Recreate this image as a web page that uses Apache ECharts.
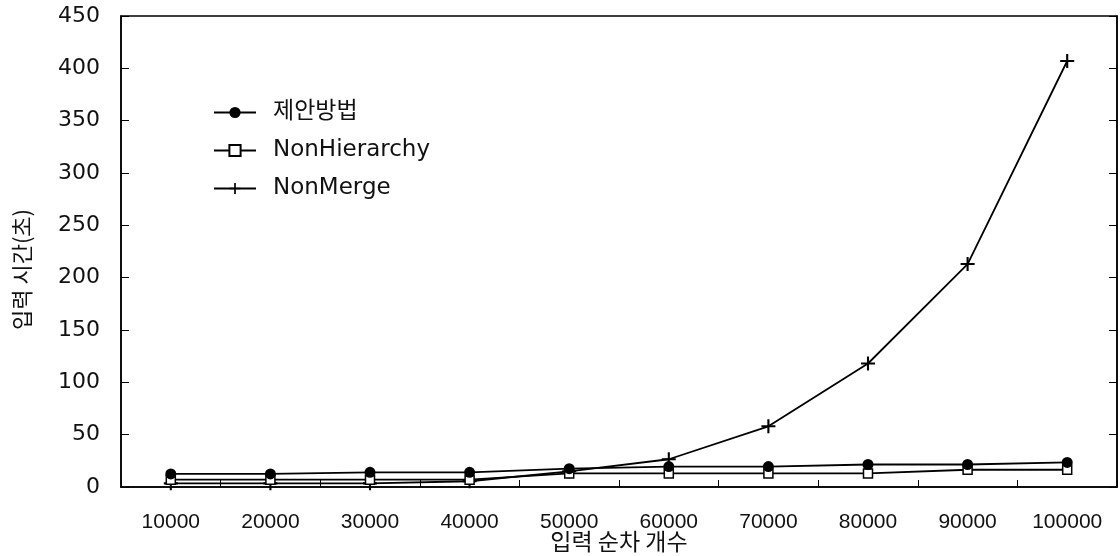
<!DOCTYPE html>
<html>
<head>
<meta charset="utf-8">
<script src="https://cdn.jsdelivr.net/npm/echarts@6/dist/echarts.min.js"></script>
<style>
  html, body { margin: 0; padding: 0; background: #fff; }
  #chart { width: 1120px; height: 556px; }
</style>
</head>
<body>
<div id="chart"></div>
<script>
// Input size (number of sequences) per measurement
const categories = ['10000', '20000', '30000', '40000', '50000', '60000', '70000', '80000', '90000', '100000'];

// Elapsed time in seconds for each method
const proposed = [12.5, 12.5, 14, 14, 17.5, 19.5, 19.5, 21.5, 21.5, 23.5];
const nonHierarchy = [7, 7, 7, 7, 13, 13, 13, 13, 16.5, 16.5];
const nonMerge = [3.5, 3.5, 3.5, 5.5, 15, 26.5, 58, 118, 213, 407];

const seriesNames = ['제안방법', 'NonHierarchy', 'NonMerge'];

// Y axis range
const yMin = 0, yMax = 450, yStep = 50;

// Filled plus-sign marker
const plusPath = 'path://M4.25,0 H5.75 V4.25 H10 V5.75 H5.75 V10 H4.25 V5.75 H0 V4.25 H4.25 Z';

const ink = '#000';
const chart = echarts.init(document.getElementById('chart'), null, { renderer: 'canvas' });

chart.setOption({
  backgroundColor: '#fff',
  animation: false,
  grid: {
    left: 121, right: 3, top: 16, bottom: 69,
    containLabel: false,
    outerBoundsMode: 'none',
    show: true, borderColor: ink, borderWidth: 1.5, backgroundColor: 'transparent'
  },
  legend: {
    orient: 'vertical',
    left: 213, top: 101,
    padding: 0,
    itemWidth: 42, itemHeight: 14, itemGap: 15,
    data: seriesNames,
    textStyle: {
      fontFamily: 'DejaVu Sans, "Noto Sans CJK KR", sans-serif',
      fontSize: 23, color: '#111',
      padding: [0, 0, 0, 12]
    }
  },
  xAxis: {
    type: 'category',
    data: categories,
    boundaryGap: true,
    name: '입력 순차 개수',
    nameLocation: 'middle',
    nameGap: 43,
    nameMoveOverlap: false,
    nameTextStyle: { fontFamily: '"Noto Sans CJK KR", sans-serif', fontSize: 23, color: '#111' },
    axisLine: { show: true, lineStyle: { color: ink, width: 1.5 } },
    axisTick: { show: true, inside: true, length: 7, lineStyle: { color: ink, width: 1 } },
    axisLabel: {
      margin: 25,
      fontFamily: '"Liberation Sans Narrow", "Liberation Sans", sans-serif',
      fontSize: 21, color: '#111'
    },
    splitLine: { show: false }
  },
  yAxis: [
    {
      type: 'value',
      min: yMin, max: yMax, interval: yStep,
      name: '입력 시간(초)',
      nameLocation: 'middle',
      nameGap: 88,
      nameRotate: 90,
      nameMoveOverlap: false,
      nameTextStyle: {
        fontFamily: '"Noto Sans CJK KR", sans-serif', fontSize: 22, color: '#111',
        padding: [0, 36, 0, 0]
      },
      axisLine: { show: true, lineStyle: { color: ink, width: 1.5 } },
      axisTick: { show: true, inside: true, length: 8, lineStyle: { color: ink, width: 1 } },
      axisLabel: {
        margin: 21,
        fontFamily: 'DejaVu Sans, sans-serif',
        fontSize: 22, color: '#111'
      },
      splitLine: { show: false }
    },
    {
      type: 'value',
      position: 'right',
      min: yMin, max: yMax, interval: yStep,
      axisLine: { show: true, lineStyle: { color: ink, width: 1.5 } },
      axisTick: { show: true, inside: true, length: 8, lineStyle: { color: ink, width: 1 } },
      axisLabel: { show: false },
      splitLine: { show: false }
    }
  ],
  series: [
    {
      name: seriesNames[2],
      type: 'line',
      data: nonMerge,
      symbol: plusPath,
      symbolSize: 14,
      z: 2,
      lineStyle: { color: ink, width: 1.8 },
      itemStyle: { color: ink }
    },
    {
      name: seriesNames[1],
      type: 'line',
      data: nonHierarchy,
      symbol: 'rect',
      symbolSize: 9,
      z: 3,
      lineStyle: { color: ink, width: 1.8 },
      itemStyle: { color: '#fff', borderColor: ink, borderWidth: 1.5 }
    },
    {
      name: seriesNames[0],
      type: 'line',
      data: proposed,
      symbol: 'circle',
      symbolSize: 11,
      z: 4,
      lineStyle: { color: ink, width: 1.8 },
      itemStyle: { color: ink }
    }
  ]
});
</script>
</body>
</html>
